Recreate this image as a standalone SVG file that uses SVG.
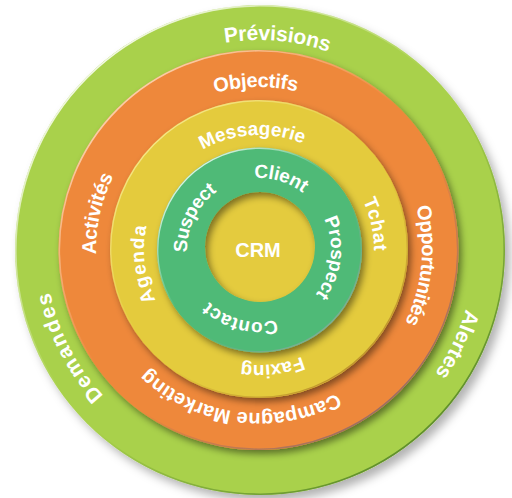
<svg xmlns="http://www.w3.org/2000/svg" width="512" height="498" viewBox="0 0 512 498">
  <style>
    .t { fill: #ffffff; font-family: "Liberation Sans", Arial, sans-serif; font-weight: bold; }
    .s21 { font-size: 21px; }
    .s20 { font-size: 20px; }
    .s19 { font-size: 19px; }
  </style>
  <defs>
    <filter id="shOuter" x="-10%" y="-10%" width="125%" height="125%">
      <feDropShadow dx="5" dy="6" stdDeviation="5" flood-color="#000" flood-opacity="0.3"/>
    </filter>
    <filter id="sh" x="-15%" y="-15%" width="135%" height="135%">
      <feDropShadow dx="3" dy="4" stdDeviation="3.5" flood-color="#000" flood-opacity="0.45"/>
    </filter>
    <linearGradient id="edgeGreen" x1="0.15" y1="0.1" x2="0.85" y2="0.9">
      <stop offset="0" stop-color="#ffffff" stop-opacity="0.9"/>
      <stop offset="0.45" stop-color="#ffffff" stop-opacity="0"/>
      <stop offset="0.55" stop-color="#5a8a2a" stop-opacity="0"/>
      <stop offset="1" stop-color="#5a8a2a" stop-opacity="1"/>
    </linearGradient>
    <linearGradient id="edgeOrange" x1="0.15" y1="0.1" x2="0.85" y2="0.9">
      <stop offset="0" stop-color="#fbd3b0" stop-opacity="1"/>
      <stop offset="0.45" stop-color="#fbd3b0" stop-opacity="0"/>
      <stop offset="0.6" stop-color="#8c6a6a" stop-opacity="0"/>
      <stop offset="1" stop-color="#8c6a6a" stop-opacity="0.9"/>
    </linearGradient>
    <linearGradient id="edgeYellow" x1="0.15" y1="0.1" x2="0.85" y2="0.9">
      <stop offset="0" stop-color="#f6e68a" stop-opacity="1"/>
      <stop offset="0.45" stop-color="#f6e68a" stop-opacity="0"/>
      <stop offset="0.6" stop-color="#b88a2a" stop-opacity="0"/>
      <stop offset="1" stop-color="#b88a2a" stop-opacity="0.9"/>
    </linearGradient>
    <linearGradient id="edgeTeal" x1="0.15" y1="0.1" x2="0.85" y2="0.9">
      <stop offset="0" stop-color="#e0f5e6" stop-opacity="1"/>
      <stop offset="0.45" stop-color="#e0f5e6" stop-opacity="0"/>
      <stop offset="0.6" stop-color="#8aa89a" stop-opacity="0"/>
      <stop offset="1" stop-color="#8aa89a" stop-opacity="0.9"/>
    </linearGradient>
    <!-- clockwise circles centred on (259,250), starting at the bottom -->
    <path id="p210" d="M259,460 A210,210 0 1 1 259,40 A210,210 0 1 1 259,460"/>
    <path id="p213" d="M259,463 A213,213 0 1 1 259,37 A213,213 0 1 1 259,463"/>
    <path id="p215" d="M259,465 A215,215 0 1 1 259,35 A215,215 0 1 1 259,465"/>
    <path id="p163" d="M259,413 A163,163 0 1 1 259,87 A163,163 0 1 1 259,413"/>
    <path id="p115" d="M259,365 A115,115 0 1 1 259,135 A115,115 0 1 1 259,365"/>
    <path id="p72" d="M259,322 A72,72 0 1 1 259,178 A72,72 0 1 1 259,322"/>
  </defs>

  <rect x="0" y="0" width="512" height="498" fill="#ffffff"/>

  <!-- Outer ring -->
  <g id="ring-outer">
    <circle cx="260" cy="250" r="245" fill="#a9d14b" filter="url(#shOuter)"/>
    <circle cx="260" cy="250" r="244.2" fill="none" stroke="url(#edgeGreen)" stroke-width="1.6"/>
  </g>

  <!-- Orange ring -->
  <g id="ring-orange">
    <circle cx="258.5" cy="250" r="200" fill="#ee883b" filter="url(#sh)"/>
    <circle cx="258.5" cy="250" r="199.2" fill="none" stroke="url(#edgeOrange)" stroke-width="1.6"/>
  </g>

  <!-- Yellow ring -->
  <g id="ring-yellow">
    <circle cx="259" cy="249" r="149" fill="#e4cb3e" filter="url(#sh)"/>
    <circle cx="259" cy="249" r="148.3" fill="none" stroke="url(#edgeYellow)" stroke-width="1.4"/>
  </g>

  <!-- CRM core -->
  <g id="core-crm">
    <circle cx="260" cy="247" r="57" fill="#e4cb3e"/>
  </g>

  <!-- Green ring -->
  <g id="ring-green">
    <path d="M259.5,147.5 A102.5,102.5 0 1 1 259.5,352.5 A102.5,102.5 0 1 1 259.5,147.5 Z M260,192 A55,55 0 1 0 260,302 A55,55 0 1 0 260,192 Z" fill="#4fba77" fill-rule="evenodd" filter="url(#sh)"/>
    <circle cx="259.5" cy="250" r="101.8" fill="none" stroke="url(#edgeTeal)" stroke-width="1.4"/>
  </g>

  <g id="label-crm">
    <text class="t s20" x="258" y="257" text-anchor="middle">CRM</text>
  </g>

  <!-- Outer ring labels -->
  <g id="label-previsions" transform="rotate(5 259 250)">
    <text class="t s21"><textPath href="#p210" startOffset="50%" text-anchor="middle" textLength="105" lengthAdjust="spacing">Prévisions</textPath></text>
  </g>
  <g id="label-demandes" transform="rotate(-117.3 259 250)">
    <text class="t s21"><textPath href="#p213" startOffset="50%" text-anchor="middle" textLength="118" lengthAdjust="spacing">Demandes</textPath></text>
  </g>
  <g id="label-alertes" transform="rotate(115.5 259 250)">
    <text class="t s21"><textPath href="#p215" startOffset="50%" text-anchor="middle" textLength="72" lengthAdjust="spacing">Alertes</textPath></text>
  </g>

  <!-- Orange ring labels -->
  <g id="label-objectifs" transform="rotate(-1.1 259 250)">
    <text class="t s20"><textPath href="#p163" startOffset="50%" text-anchor="middle" textLength="83" lengthAdjust="spacing">Objectifs</textPath></text>
  </g>
  <g id="label-activites" transform="rotate(-77.3 259 250)">
    <text class="t s20"><textPath href="#p163" startOffset="50%" text-anchor="middle" textLength="81" lengthAdjust="spacing">Activités</textPath></text>
  </g>
  <g id="label-opportunites" transform="rotate(95.5 259 250)">
    <text class="t s20"><textPath href="#p163" startOffset="50%" text-anchor="middle" textLength="119" lengthAdjust="spacing">Opportunités</textPath></text>
  </g>
  <g id="label-campagne" transform="rotate(187.3 259 250)">
    <text class="t s20"><textPath href="#p163" startOffset="50%" text-anchor="middle" textLength="204" lengthAdjust="spacing">Campagne Marketing</textPath></text>
  </g>

  <!-- Yellow ring labels -->
  <g id="label-messagerie" transform="rotate(-3.4 259 250)">
    <text class="t s19"><textPath href="#p115" startOffset="50%" text-anchor="middle" textLength="104" lengthAdjust="spacing">Messagerie</textPath></text>
  </g>
  <g id="label-agenda" transform="rotate(-97 259 250)">
    <text class="t s19"><textPath href="#p115" startOffset="50%" text-anchor="middle" textLength="76" lengthAdjust="spacing">Agenda</textPath></text>
  </g>
  <g id="label-tchat" transform="rotate(77.5 259 250)">
    <text class="t s19"><textPath href="#p115" startOffset="50%" text-anchor="middle" textLength="52" lengthAdjust="spacing">Tchat</textPath></text>
  </g>
  <g id="label-faxing" transform="rotate(173.5 259 250)">
    <text class="t s19"><textPath href="#p115" startOffset="50%" text-anchor="middle" textLength="62" lengthAdjust="spacing">Faxing</textPath></text>
  </g>

  <!-- Green ring labels -->
  <g id="label-client" transform="rotate(16.9 259 250)">
    <text class="t s19"><textPath href="#p72" startOffset="50%" text-anchor="middle" textLength="52" lengthAdjust="spacing">Client</textPath></text>
  </g>
  <g id="label-suspect" transform="rotate(-63.8 259 250)">
    <text class="t s19"><textPath href="#p72" startOffset="50%" text-anchor="middle" textLength="71" lengthAdjust="spacing">Suspect</textPath></text>
  </g>
  <g id="label-prospect" transform="rotate(96.2 259 250)">
    <text class="t s19"><textPath href="#p72" startOffset="50%" text-anchor="middle" textLength="80" lengthAdjust="spacing">Prospect</textPath></text>
  </g>
  <g id="label-contact" transform="rotate(194.8 259 250)">
    <text class="t s19"><textPath href="#p72" startOffset="50%" text-anchor="middle" textLength="73" lengthAdjust="spacing">Contact</textPath></text>
  </g>
</svg>
